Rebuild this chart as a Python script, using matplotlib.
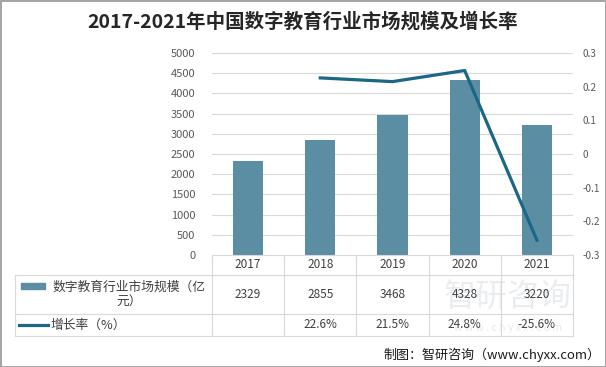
import matplotlib
matplotlib.use('Agg')
import matplotlib.pyplot as plt
from matplotlib.lines import Line2D
from matplotlib.patches import Rectangle

plt.rcParams['font.family'] = ['Noto Sans CJK SC', 'DejaVu Sans']

years = ['2017', '2018', '2019', '2020', '2021']
market_size = [2329, 2855, 3468, 4328, 3220]
growth = [None, 0.226, 0.215, 0.248, -0.256]
growth_labels = ['', '22.6%', '21.5%', '24.8%', '-25.6%']
left_ticks = [0, 500, 1000, 1500, 2000, 2500, 3000, 3500, 4000, 4500, 5000]
right_ticks = [-0.3, -0.2, -0.1, 0, 0.1, 0.2, 0.3]
right_tick_labels = ['-0.3', '-0.2', '-0.1', '0', '0.1', '0.2', '0.3']

bar_color = '#5b8ea2'
line_color = '#1c6686'
grid_color = '#d9d9d9'
text_color = '#404040'
tick_color = '#595959'

W, H = 606, 367
fig = plt.figure(figsize=(W / 100, H / 100), dpi=100)
fig.patch.set_edgecolor('#a6a6a6')
fig.patch.set_linewidth(2)

# watermark, drawn beneath everything else
fig.text(508 / W, 1 - 297 / H, '智研咨询', ha='center', va='center', fontsize=23,
         color='#e9edf0', zorder=-1)
fig.text(508 / W, 1 - 328 / H, 'w w w . c h y x x . c o m', ha='center', va='center',
         fontsize=7.5, color='#e6eaed', zorder=-1)

ax = fig.add_axes([212 / W, 1 - 255 / H, (573 - 212) / W, (255 - 53) / H])
ax.patch.set_alpha(0)
x = list(range(len(years)))
ax.bar(x, market_size, width=0.42, color=bar_color, zorder=2)
ax.set_xlim(-0.5, len(years) - 0.5)
ax.set_ylim(0, 5000)
ax.set_yticks(left_ticks)
ax.set_xticks([])
ax.yaxis.grid(True, color=grid_color, linewidth=0.8)
ax.set_axisbelow(True)
for s in ['top', 'right', 'left']:
    ax.spines[s].set_visible(False)
ax.spines['bottom'].set_color(grid_color)
ax.tick_params(axis='y', length=0, pad=12, labelsize=8, labelcolor=tick_color)

ax2 = ax.twinx()
gx = [i for i, g in zip(x, growth) if g is not None]
gy = [g for g in growth if g is not None]
ax2.plot(gx, gy, color=line_color, linewidth=2.3, zorder=3)
ax2.set_ylim(-0.3, 0.3)
ax2.set_yticks(right_ticks)
ax2.set_yticklabels(right_tick_labels)
for s in ax2.spines.values():
    s.set_visible(False)
ax2.tick_params(axis='y', length=0, pad=7, labelsize=7.2, labelcolor=tick_color)

# data table under the chart
tr = ax.get_xaxis_transform()
left_edge = -0.5 - (212 - 16) / 72
y_rows = [-20 / 202, -59 / 202, -81 / 202]
for xv in [i - 0.5 for i in range(len(years) + 1)]:
    ax.add_line(Line2D([xv, xv], [0, y_rows[-1]], transform=tr, color=grid_color,
                       linewidth=0.8, clip_on=False))
ax.add_line(Line2D([left_edge, left_edge], [y_rows[0], y_rows[-1]], transform=tr,
                   color=grid_color, linewidth=0.8, clip_on=False))
for yv in y_rows:
    ax.add_line(Line2D([left_edge, len(years) - 0.5], [yv, yv], transform=tr,
                       color=grid_color, linewidth=0.8, clip_on=False))

for i, yr in enumerate(years):
    ax.text(i, -10 / 202, yr, transform=tr, ha='center', va='center',
            fontsize=8.5, color=text_color)
    ax.text(i, -40 / 202, str(market_size[i]), transform=tr, ha='center', va='center',
            fontsize=8.5, color=text_color)
    ax.text(i, -70 / 202, growth_labels[i], transform=tr, ha='center', va='center',
            fontsize=8.5, color=text_color)

# legend cells
fig.patches.append(Rectangle((21 / W, 1 - 289 / H), 24 / W, 6 / H,
                             transform=fig.transFigure, color=bar_color))
fig.text(129 / W, 1 - 295 / H, '数字教育行业市场规模（亿\n元）', ha='center', va='center',
         multialignment='center', fontsize=9.2, color=text_color, linespacing=1.25)
fig.add_artist(Line2D([19 / W, 48 / W], [1 - 325 / H, 1 - 325 / H],
                      color=line_color, linewidth=2.3))
fig.text(50 / W, 1 - 325 / H, '增长率（%）', ha='left', va='center',
         fontsize=9.2, color=text_color)

fig.text(0.5, 1 - 22 / H, '2017-2021年中国数字教育行业市场规模及增长率', ha='center',
         va='center', fontsize=14, fontweight='bold', color='#262626')
fig.text(600 / W, 1 - 355 / H, '制图：智研咨询（www.chyxx.com）', ha='right', va='center',
         fontsize=9.4, color='#1a1a1a')

plt.savefig('out.png', dpi=100)
